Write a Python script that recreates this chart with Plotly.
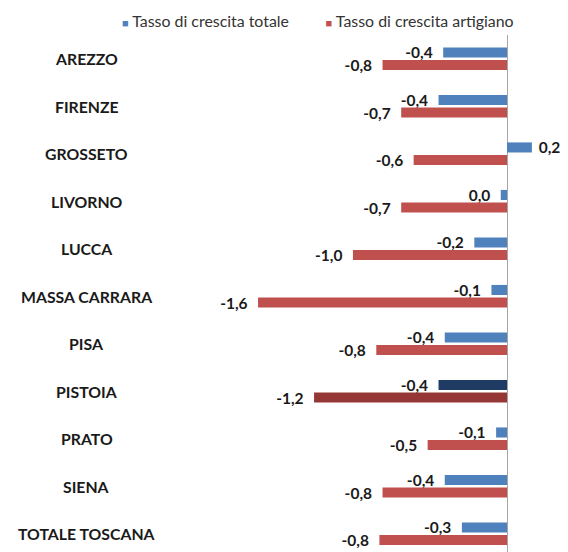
import plotly.graph_objects as go

# Province della Toscana, tassi di crescita (%)
province = ["AREZZO", "FIRENZE", "GROSSETO", "LIVORNO", "LUCCA", "MASSA CARRARA",
            "PISA", "PISTOIA", "PRATO", "SIENA", "TOTALE TOSCANA"]
tasso_totale = [-0.41, -0.44, 0.16, -0.04, -0.21, -0.10, -0.40, -0.44, -0.07, -0.40, -0.29]
tasso_artigiano = [-0.80, -0.68, -0.60, -0.68, -0.99, -1.60, -0.84, -1.24, -0.51, -0.80, -0.82]
serie = ["Tasso di crescita totale", "Tasso di crescita artigiano"]
evidenziata = "PISTOIA"

BLU, BLU_SCURO = "#4F81BD", "#1F3B63"
ROSSO, ROSSO_SCURO = "#C0504D", "#953735"
FONT = "Lato"


def etichetta(v):
    s = f"{round(v, 1) + 0.0:.1f}".replace(".", ",")
    return s + "\u00a0\u00a0" if v < 0 else "\u00a0" + s


fig = go.Figure()
for nome, valori, col, col_ev in [(serie[0], tasso_totale, BLU, BLU_SCURO),
                                  (serie[1], tasso_artigiano, ROSSO, ROSSO_SCURO)]:
    fig.add_trace(go.Bar(
        y=province, x=valori, orientation="h", name=nome, showlegend=False,
        marker=dict(color=[col_ev if p == evidenziata else col for p in province], line=dict(width=0)),
        text=[etichetta(v) for v in valori], textposition="outside", cliponaxis=False,
        constraintext="none",
        textfont=dict(family=FONT, size=15.5, color="#1a1a1a", weight="bold"),
    ))

# category labels centred on the left
for p in province:
    fig.add_annotation(x=0.141, xref="paper", y=p, yref="y", text=f"<b>{p}</b>",
                       showarrow=False, xanchor="center",
                       font=dict(family=FONT, size=15.8, color="#1a1a1a"))

# legend drawn as text with small coloured squares
legenda = ("\u00a0" * 9).join(
    f"<span style='color:{c};font-size:11px'>■</span> {n}" for n, c in zip(serie, [BLU, ROSSO]))
fig.add_annotation(x=0.2, xref="paper", y=1.029, yref="paper", text=legenda,
                   showarrow=False, xanchor="left", yanchor="middle",
                   font=dict(family=FONT, size=15.9, color="#333333"))

fig.update_layout(
    width=560, height=544,
    margin=dict(l=0, r=0, t=27, b=0),
    plot_bgcolor="white", paper_bgcolor="white",
    barmode="group", bargap=0.47, bargroupgap=0.2,
    showlegend=False,
    font=dict(family=FONT, size=14, color="#1a1a1a"),
    xaxis=dict(range=[-3.207, 0.392], showgrid=False, showticklabels=False, ticks="",
               zeroline=True, zerolinecolor="#A6A6A6", zerolinewidth=1, showline=False),
    yaxis=dict(range=[10.384, -0.5], showgrid=False, showticklabels=False, ticks="",
               zeroline=False, showline=False),
)

fig.write_html("out.html")
